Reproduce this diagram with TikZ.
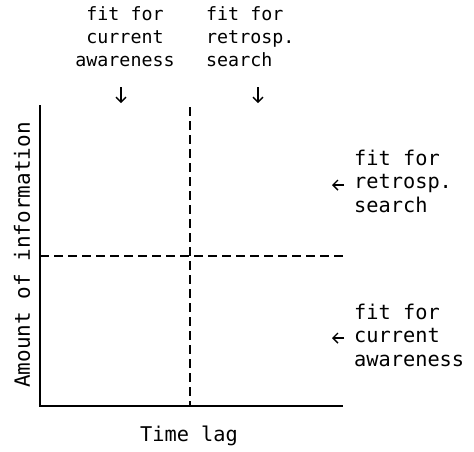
\documentclass[tikz,border=0pt]{standalone}
\usepackage{fontspec}
\usetikzlibrary{arrows.meta}
\newfontfamily\monofont{DejaVu Sans Mono}
\begin{document}
\begin{tikzpicture}[x=1pt,y=-1pt,
  lbl/.style={font=\monofont\fontsize{18.3}{23}\selectfont, inner sep=0pt},
  biglbl/.style={font=\monofont\fontsize{20.3}{23.5}\selectfont, inner sep=0pt},
  axis/.style={line width=1.6pt},
  divider/.style={line width=1.3pt, dash pattern=on 9pt off 5pt},
  pointer/.style={line width=1.4pt, -{Straight Barb[length=5pt,width=10pt,line width=1.4pt]}}]
\useasboundingbox (0,0) rectangle (474,451);
\coordinate (O) at (40,406);
\coordinate (ytop) at (40,105);
\coordinate (xend) at (343,406);
\coordinate (vtop) at (190,107);
\coordinate (vbot) at (190,406);
\coordinate (hl) at (40,256);
\coordinate (hr) at (343,256);
\draw[axis] (ytop) -- (O) -- (xend);
\draw[divider] (vtop) -- (vbot);
\draw[divider] (hl) -- (hr);
\node[lbl, align=center] (ca) at (125,37) {fit for\\current\\awareness};
\node[lbl, align=left, anchor=west] (rs) at (206,37) {fit for\\retrosp.\\search};
\node[biglbl, align=left, anchor=west] (rs2) at (354,181) {fit for\\retrosp.\\search};
\node[biglbl, align=left, anchor=west] (ca2) at (354,335) {fit for\\current\\awareness};
\coordinate (a1s) at (121,87); \coordinate (a1e) at (121,103);
\coordinate (a2s) at (258,87); \coordinate (a2e) at (258,103);
\coordinate (a3s) at (344,185); \coordinate (a3e) at (332,185);
\coordinate (a4s) at (344,338); \coordinate (a4e) at (332,338);
\draw[pointer] (a1s) -- (a1e);
\draw[pointer] (a2s) -- (a2e);
\draw[pointer] (a3s) -- (a3e);
\draw[pointer] (a4s) -- (a4e);
\node[font=\monofont\fontsize{21}{24}\selectfont, inner sep=0pt, rotate=90] (ylab) at (22,255) {Amount of information};
\node[biglbl] (xlab) at (189,436) {Time lag};
\end{tikzpicture}
\end{document}
